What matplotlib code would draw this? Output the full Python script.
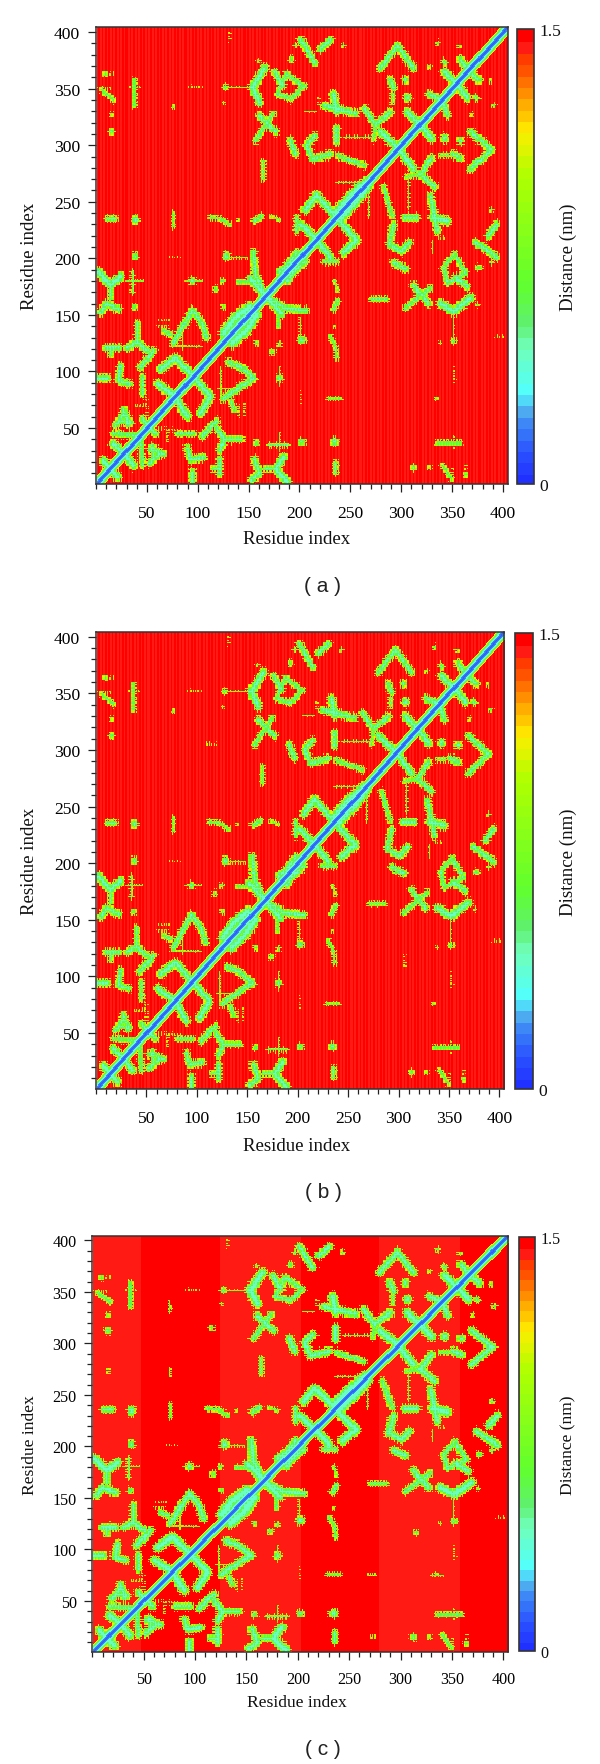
#!/usr/bin/env python
import numpy as np
import matplotlib
matplotlib.use('Agg')
import matplotlib.pyplot as plt
from matplotlib.colors import LinearSegmentedColormap, ListedColormap
from matplotlib.ticker import MultipleLocator

plt.rcParams['font.family'] = ['Liberation Serif', 'DejaVu Serif']

W, H = 600.0, 1765.0
n_res = 404

tick_major = [50, 100, 150, 200, 250, 300, 350, 400]
panel_names = ['( a )', '( b )', '( c )']

# distance (nm) against |i-j| along the main diagonal
diag_offset = [0, 1, 2, 3, 4, 5, 6, 7, 8]
diag_value = [0.12, 0.16, 0.22, 0.40, 0.45, 0.55, 0.75, 1.15, 1.5]

# how far each residue reaches past a contact edge, repeats along the chain;
# gives the hatched fringe seen round the contacts
residue_reach = [-0.6, 0.3, -0.9, 0.9, -0.3, -0.8, 1.1, 0.1, -0.7, 0.5, -0.5, 1.0, -0.9, 0.2, 0.7,
                 -0.6, -0.2, 1.2, -0.8, 0.4, -0.4, -0.9, 0.8, 0.0, -0.7, 1.0, -0.3, 0.5, -0.8]

# contact paths of the upper-left triangle: half width, then residue pairs (i, j)
arm_paths = [
    (3.5, [(2, 188), (14, 176), (24, 184)]),
    (2.5, [(14, 176), (14, 165)]),
    (3.0, [(4, 152), (10, 160), (22, 155)]),
    (2.5, [(40, 143), (40, 126)]),
    (3.0, [(30, 121), (40, 126), (50, 118)]),
    (3.0, [(56, 118), (50, 111), (43, 104)]),
    (3.0, [(10, 121), (22, 121)]),
    (2.5, [(14, 115), (14, 121)]),
    (3.0, [(24, 105), (22, 92), (32, 89)]),
    (2.5, [(45, 95), (45, 80)]),
    (3.0, [(19, 52), (27, 62), (33, 55)]),
    (2.5, [(17, 45), (43, 43), (43, 38)]),
    (3.5, [(17, 36), (27, 27)]),
    (3.5, [(7, 21), (14, 14)]),
    (3.0, [(45, 58), (52, 52)]),
    (3.0, [(76, 125), (87, 143), (94, 154), (104, 142), (108, 130)]),
    (3.5, [(63, 102), (78, 112), (95, 95)]),
    (3.5, [(60, 89), (78, 78)]),
    (3.0, [(53, 31), (66, 27)]),
    (2.5, [(56, 31), (56, 21)]),
    (2.5, [(66, 136), (73, 133)]),
    (4.0, [(125, 134), (136, 147), (150, 157)]),
    (3.5, [(151, 182), (166, 167)]),
    (3.0, [(154, 205), (156, 185), (166, 168)]),
    (3.0, [(180, 188), (188, 194), (197, 205)]),
    (3.5, [(201, 230), (216, 216)]),
    (3.5, [(205, 243), (216, 256), (232, 240)]),
    (3.5, [(234, 240), (250, 256), (264, 268)]),
    (2.5, [(237, 291), (263, 282)]),
    (3.0, [(214, 308), (206, 300), (212, 288), (230, 292)]),
    (3.5, [(279, 312), (297, 297)]),
    (3.5, [(306, 329), (319, 317)]),
    (3.0, [(263, 332), (274, 318), (289, 329)]),
    (2.0, [(274, 318), (272, 305)]),
    (3.0, [(224, 335), (255, 328)]),
    (3.5, [(233, 345), (236, 330)]),
    (3.0, [(236, 315), (236, 303)]),
    (3.0, [(279, 368), (296, 388), (312, 368)]),
    (3.0, [(289, 358), (292, 350)]),
    (2.0, [(291, 346), (291, 338)]),
    (3.5, [(342, 365), (355, 353)]),
    (3.0, [(358, 376), (365, 366)]),
    (3.0, [(328, 344), (341, 340)]),
    (2.5, [(339, 342), (346, 326)]),
    (3.0, [(201, 393), (214, 373)]),
    (3.0, [(220, 385), (230, 393)]),
    (3.0, [(175, 365), (183, 353)]),
    (2.5, [(178, 345), (187, 363), (204, 352), (192, 341), (178, 345)]),
    (3.5, [(165, 368), (153, 351), (160, 338)]),
    (3.0, [(160, 326), (176, 312)]),
    (2.5, [(174, 328), (156, 304)]),
    (2.0, [(164, 285), (164, 270)]),
    (3.0, [(191, 304), (196, 292)]),
    (2.0, [(5, 349), (17, 340)]),
    (2.5, [(11, 235), (19, 235)]),
    (1.5, [(76, 240), (76, 228)]),
    (2.0, [(112, 236), (122, 235), (131, 230)]),
    (2.5, [(155, 233), (162, 237)]),
    (1.5, [(172, 237), (180, 234)]),
    (2.5, [(197, 236), (197, 224)]),
    (1.5, [(35, 170), (35, 188)]),
    (3.0, [(1, 94), (11, 94)]),
    (2.0, [(37, 358), (37, 335)]),
    (2.0, [(140, 179), (150, 179)]),
]

# thin streaks, yellow on the red ground
streak_paths = [
    (1.0, [(74, 123), (102, 122)]),
    (1.0, [(237, 267), (267, 267)]),
    (1.2, [(245, 307), (271, 307)]),
    (1.0, [(128, 201), (147, 201)]),
    (0.6, [(127, 351), (150, 351)]),
    (0.6, [(88, 180), (103, 180)]),
    (0.6, [(30, 180), (45, 180)]),
    (0.3, [(72, 202), (82, 202)]),
    (0.3, [(90, 352), (103, 352)]),
    (0.6, [(131, 392), (131, 400)]),
    (0.5, [(2, 350), (15, 350)]),
    (0.5, [(5, 363), (18, 363)]),
    (0.6, [(33, 352), (42, 352)]),
    (0.6, [(60, 140), (70, 140)]),
    (0.6, [(60, 145), (72, 145)]),
    (0.6, [(38, 70), (50, 70)]),
    (0.6, [(120, 85), (135, 85)]),
    (0.6, [(60, 50), (85, 48)]),
    (0.6, [(218, 335), (218, 342)]),
    (0.6, [(205, 330), (215, 330)]),
]

# round contacts: i, j, radius
blob_i = [9, 15, 15, 76, 127, 125, 38, 38, 128, 140, 94, 117, 124, 37, 159, 192, 196,
          243, 304, 306, 341, 342, 373, 387, 327, 125, 335, 47, 14, 21]
blob_j = [363, 327, 312, 334, 351, 338, 202, 234, 202, 234, 180, 173, 180, 157, 375, 376, 388,
          388, 358, 342, 375, 307, 342, 357, 369, 157, 390, 22, 118, 30]
blob_r = [2.0, 1.5, 2.5, 1.5, 2.5, 1.2, 3.0, 3.5, 3.5, 1.2, 3.0, 2.5, 2.0, 2.5, 1.5, 2.5, 1.8,
          1.8, 3.0, 3.5, 2.0, 3.0, 2.5, 1.5, 1.5, 2.0, 1.8, 2.0, 2.5, 1.5]

# a few contacts seen only in one panel
extra_b = [(0.6, [(108, 305), (118, 305)])]
extra_c = [(2.5, [(116, 313), (116, 316)]), (1.0, [(15, 270), (15, 275)]), (1.0, [(75, 330), (75, 340)]),
           (1.0, [(76, 275), (76, 268)])]

width_scale = [1.3, 1.25, 1.45]

# slightly lighter red blocks of panel c, by residue
block_edges_c = [0, 47, 123, 202, 278, 356, 405]
block_light_c = [1, 0, 1, 0, 1, 0]

# colour bar, bottom to top
cbar_pos = [0.0, 0.06, 0.12, 0.158, 0.194, 0.30, 0.35, 0.44, 0.69, 0.787, 0.86, 0.912, 0.96, 1.0]
cbar_col = ['#2030ff', '#2a50ff', '#3a80f8', '#50b0f0', '#50ffff', '#70ffb8', '#60f070', '#60ff30',
            '#b0ff00', '#ffee00', '#ffa000', '#ff6000', '#ff3000', '#ff0000']
n_levels = 40

# pixel boxes: left, right, top, bottom
axes_box = [(96, 507.5, 28, 485), (96, 504, 632.7, 1090), (92.3, 508, 1236.7, 1653)]
cbar_box = [(517, 534, 30, 485), (515, 532.7, 634, 1090), (519.3, 535, 1238, 1652)]
xlabel_y = [540, 1147, 1703]
xtick_pad = [9, 9, 8]
name_y = [586, 1193, 1750]
font_tick = [12.6, 12.6, 11.6]
font_label = [13.6, 13.6, 12.6]


def seg_dist(ii, jj, a, b):
    ab = np.array(b, float) - np.array(a, float)
    denom = max((ab ** 2).sum(), 1e-9)
    t = np.clip(((ii - a[0]) * ab[0] + (jj - a[1]) * ab[1]) / denom, 0, 1)
    return np.hypot(ii - a[0] - t * ab[0], jj - a[1] - t * ab[1])


def add_path(mat, ii, jj, reach, w, pts):
    depth = np.full(mat.shape, -9.0)
    for a, b in zip(pts[:-1], pts[1:]):
        depth = np.maximum(depth, w - seg_dist(ii, jj, a, b))
        depth = np.maximum(depth, w - seg_dist(jj, ii, a, b))
    depth = depth + reach
    val = np.interp(depth, [0, 0.7, 1.6, 2.8, 4.0], [1.22, 1.0, 0.72, 0.54, 0.42])
    val[depth < 0] = 1.5
    return np.minimum(mat, val)


def build_matrix(panel):
    res = np.arange(1, n_res + 1)
    ii, jj = np.meshgrid(res, res)
    r = np.array(residue_reach)
    reach = 0.8 * (r[ii % len(r)] + r[jj % len(r)])
    # background stripes / blocks sit in the two top levels of the colormap
    if panel < 2:
        stripe = (np.floor(ii / 1.7).astype(int) % 2) == 0
        mat = np.where(stripe, 1.45, 1.5)
    else:
        mat = np.full(ii.shape, 1.5)
        for k in range(len(block_light_c)):
            if block_light_c[k]:
                mat[(ii > block_edges_c[k]) & (ii <= block_edges_c[k + 1])] = 1.45
    scale = width_scale[panel]
    for w, pts in arm_paths:
        mat = add_path(mat, ii, jj, reach, w * scale, pts)
    thin = list(streak_paths)
    if panel == 1:
        thin += extra_b
    if panel == 2:
        thin += extra_c
    for w, pts in thin:
        mat = add_path(mat, ii, jj, reach, w, pts)
    for a, b, s in zip(blob_i, blob_j, blob_r):
        mat = add_path(mat, ii, jj, reach, s * scale, [(a, b), (a, b)])
    mat = np.minimum(mat, np.interp(np.abs(ii - jj), diag_offset, diag_value))
    return mat


base = LinearSegmentedColormap.from_list('dist', list(zip(cbar_pos, cbar_col)), N=256)
colors = base(np.linspace(0, 1, n_levels))
colors[-1] = matplotlib.colors.to_rgba('#ff0000')
colors[-2] = matplotlib.colors.to_rgba('#ff1a14')
cmap = ListedColormap(colors)

fig = plt.figure(figsize=(6, 17.65), dpi=100)


def add_box(box):
    l, r, t, b = box
    return fig.add_axes([l / W, 1 - b / H, (r - l) / W, (b - t) / H])


for p in range(3):
    ax = add_box(axes_box[p])
    im = ax.imshow(build_matrix(p), origin='lower', cmap=cmap, vmin=0, vmax=1.5, aspect='auto',
                   interpolation='nearest', extent=(0.5, n_res + 0.5, 0.5, n_res + 0.5))
    ax.set_xlim(0, 404.5)
    ax.set_ylim(0.5, 404.5)
    ax.set_xticks(tick_major)
    ax.set_yticks(tick_major)
    ax.xaxis.set_minor_locator(MultipleLocator(10))
    ax.yaxis.set_minor_locator(MultipleLocator(10))
    ax.tick_params(which='major', length=5.8, width=0.9, color='#222222', labelsize=font_tick[p])
    ax.tick_params(which='minor', length=3.6, width=0.9, color='#222222')
    ax.tick_params(axis='x', which='major', pad=xtick_pad[p])
    ax.tick_params(axis='y', which='major', pad=5.5)
    for s in ax.spines.values():
        s.set_linewidth(1.1)
        s.set_color('#333333')

    l, r, t, b = axes_box[p]
    fig.text(297 / W, 1 - xlabel_y[p] / H, 'Residue index', ha='center', va='center',
             fontsize=font_label[p], color='#111111')
    fig.text(30 / W, 1 - (t + b) / 2 / H, 'Residue index', ha='center', va='center', rotation=90,
             fontsize=font_label[p], color='#111111')
    fig.text(323 / W, 1 - name_y[p] / H, panel_names[p], ha='center', va='center', fontsize=15,
             family='Liberation Sans', color='#222222')

    cax = add_box(cbar_box[p])
    cb = fig.colorbar(im, cax=cax, ticks=[0, 1.5])
    cb.ax.set_yticklabels(['0', '1.5'], fontsize=font_tick[p], color='#111111')
    cb.ax.tick_params(length=0, pad=4)
    cb.outline.set_linewidth(1.2)
    cb.outline.set_edgecolor('#333333')
    cb.solids.set_edgecolor('face')
    l2, r2, t2, b2 = cbar_box[p]
    fig.text(568 / W, 1 - (t2 + b2) / 2 / H, 'Distance (nm)', ha='center', va='center', rotation=90,
             fontsize=font_label[p], color='#111111')

fig.savefig('out.png', dpi=100)
